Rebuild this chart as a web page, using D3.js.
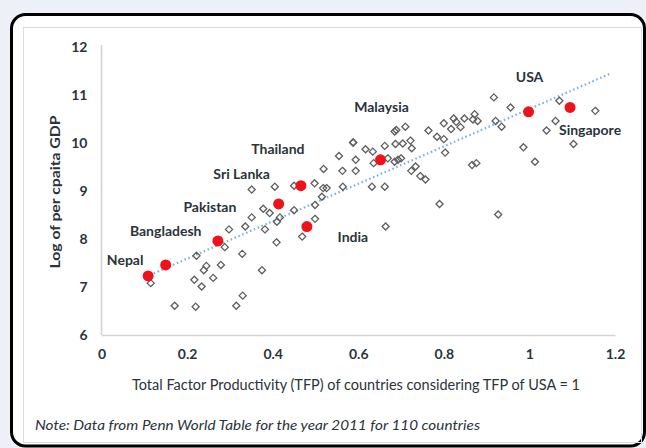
<!DOCTYPE html>
<html>
<head>
<meta charset="utf-8">
<script src="https://cdn.jsdelivr.net/npm/d3@7"></script>
<style>
  body { margin: 0; background: #edf1f7; }
  svg { display: block; }
  text { font-family: "Liberation Sans Narrow", Lato, "Open Sans", sans-serif; fill: #2b333b; }
</style>
</head>
<body>
<script>
let width = 646,
    height = 448;

// other countries (grey diamonds): TFP relative to USA, log per capita GDP
let tfp = [0.115, 0.171, 0.220, 0.217, 0.234, 0.222, 0.239, 0.245, 0.261, 0.279,
           0.288, 0.298, 0.315, 0.330, 0.329, 0.336, 0.351, 0.351, 0.375, 0.378,
           0.382, 0.393, 0.405, 0.409, 0.410, 0.417, 0.450, 0.450, 0.469, 0.498,
           0.499, 0.499, 0.515, 0.518, 0.526, 0.564, 0.519, 0.555, 0.563, 0.588,
           0.594, 0.594, 0.617, 0.632, 0.634, 0.636, 0.662, 0.662, 0.669, 0.685,
           0.689, 0.687, 0.685, 0.693, 0.700, 0.704, 0.710, 0.722, 0.725, 0.724,
           0.734, 0.745, 0.757, 0.764, 0.784, 0.800, 0.803, 0.800, 0.817, 0.823,
           0.829, 0.839, 0.848, 0.868, 0.872, 0.879, 0.866, 0.876, 0.790, 0.917,
           0.921, 0.935, 0.927, 0.956, 0.986, 1.013, 1.040, 1.061, 1.070, 1.103,
           1.154, 0.664, 0.588];
let gdp = [7.08, 6.61, 6.59, 7.15, 7.01, 7.65, 7.35, 7.44, 7.19, 7.46,
           7.83, 8.20, 6.61, 6.82, 7.69, 8.26, 8.45, 9.03, 7.35, 8.63,
           8.20, 8.54, 9.09, 7.93, 8.36, 8.45, 8.60, 9.11, 8.05, 9.16,
           8.71, 8.42, 8.88, 9.06, 9.06, 9.09, 9.46, 9.73, 9.42, 10.01,
           9.65, 9.42, 9.87, 9.09, 9.82, 9.58, 9.09, 9.94, 9.68, 10.24,
           10.27, 9.98, 9.61, 9.65, 9.68, 9.99, 10.34, 10.05, 9.89, 9.42,
           9.51, 9.31, 9.24, 10.26, 10.13, 10.08, 9.80, 10.41, 10.29, 10.51,
           10.44, 10.33, 10.51, 10.49, 10.60, 10.46, 9.54, 9.58, 8.73, 10.95,
           10.46, 10.34, 8.51, 10.74, 9.91, 9.61, 10.26, 10.46, 10.88, 9.98,
           10.67, 8.26, 10.01];

// highlighted countries (red dots)
let countries  = ["Nepal", "Bangladesh", "Pakistan", "Sri Lanka", "Thailand", "India", "Malaysia", "USA", "Singapore"];
let countryTfp = [0.109, 0.150, 0.272, 0.414, 0.466, 0.480, 0.652, 0.998, 1.095];
let countryGdp = [7.23, 7.46, 7.96, 8.73, 9.11, 8.26, 9.65, 10.65, 10.74];

// dotted linear trend, read at its two ends
let trendTfp = [0.113, 1.19];
let trendGdp = [7.25, 11.45];

let xTicks = [0, 0.2, 0.4, 0.6, 0.8, 1, 1.2];
let yTicks = [6, 7, 8, 9, 10, 11, 12];

// label placement relative to each red dot (pixels)
let labelOffsets = [[-23, -16], [0, -34], [-8, -34], [-37, -30], [-23, -37],
                    [46, 11], [1, -53], [1, -35], [20, 23]];

let svg = d3.select("body")
            .append("svg")
            .attr("width", width)
            .attr("height", height);

// frame
svg.append("rect")
   .attr("x", 11.5).attr("y", 14.5)
   .attr("width", 633).attr("height", 431.5)
   .attr("rx", 14)
   .attr("fill", "#ffffff")
   .attr("stroke", "#000")
   .attr("stroke-width", 3);

svg.append("rect")
   .attr("x", 23.5).attr("y", 27.5)
   .attr("width", 618).attr("height", 415)
   .attr("fill", "none")
   .attr("stroke", "#dcdcdc")
   .attr("stroke-width", 1);

let xScale = d3.scaleLinear()
               .domain([0, 1.2])
               .range([101.5, 615]);

let yScale = d3.scaleLinear()
               .domain([6, 12])
               .range([335, 47]);

// axes: only the axis line and labels
let xAxis = d3.axisBottom(xScale).tickValues(xTicks).tickSize(0).tickPadding(14)
              .tickFormat(d3.format("~g"));
let yAxis = d3.axisLeft(yScale).tickValues(yTicks).tickSize(0).tickPadding(14)
              .tickFormat(d3.format("d"));

let gx = svg.append("g")
            .attr("transform", "translate(0," + yScale(6) + ")")
            .call(xAxis);
let gy = svg.append("g")
            .attr("transform", "translate(" + xScale(0) + ",0)")
            .call(yAxis);

[gx, gy].forEach(function(g) {
    g.select(".domain").attr("stroke", "#d4d4d4").attr("stroke-width", 1.6);
    g.selectAll("text")
     .style("font-size", "14px")
     .style("font-weight", "bold")
     .attr("fill", "#2b333b");
});
gy.select(".domain").attr("d", "M0," + (yScale(12) - 2) + "V" + yScale(6));

// trend line
svg.append("line")
   .attr("x1", xScale(trendTfp[0])).attr("y1", yScale(trendGdp[0]))
   .attr("x2", xScale(trendTfp[1])).attr("y2", yScale(trendGdp[1]))
   .attr("stroke", "#7fb1dc")
   .attr("stroke-width", 2.2)
   .attr("stroke-dasharray", "1.6 2.6");

// grey diamonds
let diamond = d3.symbol().type(d3.symbolDiamond2).size(32);
svg.append("g")
   .selectAll("path")
   .data(d3.range(tfp.length))
   .enter()
   .append("path")
   .attr("d", diamond)
   .attr("transform", function(i) {
       return "translate(" + xScale(tfp[i]) + "," + yScale(gdp[i]) + ")";
   })
   .attr("fill", "none")
   .attr("stroke", "#5e5e5e")
   .attr("stroke-width", 1.3);

// red dots
svg.append("g")
   .selectAll("circle")
   .data(countries)
   .enter()
   .append("circle")
   .attr("cx", function(d, i) { return xScale(countryTfp[i]); })
   .attr("cy", function(d, i) { return yScale(countryGdp[i]); })
   .attr("r", 5.5)
   .attr("fill", "#f0121b");

// country labels
svg.append("g")
   .selectAll("text")
   .data(countries)
   .enter()
   .append("text")
   .attr("x", function(d, i) { return xScale(countryTfp[i]) + labelOffsets[i][0]; })
   .attr("y", function(d, i) { return yScale(countryGdp[i]) + labelOffsets[i][1]; })
   .attr("dy", "0.35em")
   .attr("text-anchor", "middle")
   .style("font-size", "14px")
   .style("font-weight", "bold")
   .text(function(d) { return d; });

// axis titles
svg.append("text")
   .attr("x", 356).attr("y", 385)
   .attr("dy", "0.35em")
   .attr("text-anchor", "middle")
   .attr("textLength", 448)
   .attr("lengthAdjust", "spacingAndGlyphs")
   .style("font-size", "14.5px")
   .attr("fill", "#222")
   .text("Total Factor Productivity (TFP) of countries  considering TFP of USA = 1");

svg.append("text")
   .attr("transform", "translate(55,192) rotate(-90)")
   .attr("dy", "0.35em")
   .attr("text-anchor", "middle")
   .attr("textLength", 153)
   .attr("lengthAdjust", "spacingAndGlyphs")
   .style("font-size", "13.5px")
   .style("font-weight", "bold")
   .attr("fill", "#111")
   .text("Log of per cpaita GDP");

// note
svg.append("text")
   .attr("x", 35).attr("y", 425)
   .attr("dy", "0.35em")
   .attr("textLength", 445)
   .attr("lengthAdjust", "spacingAndGlyphs")
   .style("font-size", "13.5px")
   .style("font-style", "italic")
   .attr("fill", "#222")
   .text("Note: Data from Penn World Table for the year 2011 for 110 countries");
</script>
</body>
</html>
